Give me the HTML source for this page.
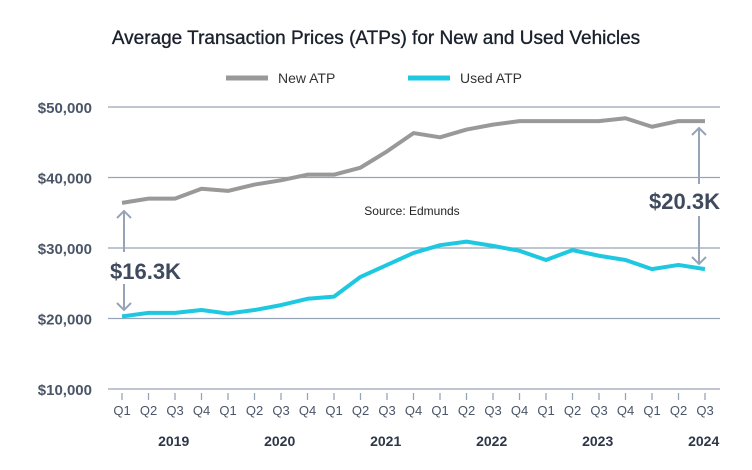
<!DOCTYPE html>
<html><head><meta charset="utf-8"><style>
body{margin:0;background:#fff;}
svg{display:block;font-family:"Liberation Sans",sans-serif;}
</style></head><body>
<svg id="c" width="752" height="470">
<text x="376" y="44" text-anchor="middle" font-size="19" fill="#1a202c" stroke="#1a202c" stroke-width="0.35">Average Transaction Prices (ATPs) for New and Used Vehicles</text>
<g>
<line x1="226" y1="78" x2="268" y2="78" stroke="#999" stroke-width="5"/>
<text x="278" y="83" font-size="14" fill="#333">New ATP</text>
<line x1="408" y1="78" x2="450" y2="78" stroke="#1ec8e0" stroke-width="5"/>
<text x="460" y="83" font-size="14" fill="#333">Used ATP</text>
</g>
<text x="412" y="215" text-anchor="middle" font-size="12" fill="#222">Source: Edmunds</text>
<g id="grid"></g><g id="xax"></g><g id="lines"></g>
<g>
<line x1="124" y1="211" x2="124" y2="252" stroke="#97a3b6" stroke-width="2"/>
<polyline points="117,218 124,211 131,218" fill="none" stroke="#97a3b6" stroke-width="2"/>
<line x1="124" y1="284" x2="124" y2="310" stroke="#97a3b6" stroke-width="2"/>
<polyline points="117,303 124,310 131,303" fill="none" stroke="#97a3b6" stroke-width="2"/>
<text x="110" y="279" font-size="22" font-weight="bold" fill="#3f4a5c">$16.3K</text>
</g>
<g>
<line x1="699" y1="128" x2="699" y2="184" stroke="#97a3b6" stroke-width="2"/>
<polyline points="692,135 699,128 706,135" fill="none" stroke="#97a3b6" stroke-width="2"/>
<line x1="699" y1="216" x2="699" y2="264" stroke="#97a3b6" stroke-width="2"/>
<polyline points="692,257 699,264 706,257" fill="none" stroke="#97a3b6" stroke-width="2"/>
<text x="720" y="209" text-anchor="end" font-size="22" font-weight="bold" fill="#3f4a5c">$20.3K</text>
</g>
</svg>
<script>
const quarters=["Q1","Q2","Q3","Q4","Q1","Q2","Q3","Q4","Q1","Q2","Q3","Q4","Q1","Q2","Q3","Q4","Q1","Q2","Q3","Q4","Q1","Q2","Q3"];
const years=["2019","2020","2021","2022","2023","2024"];
const newATP=[36.4,37.0,37.0,38.4,38.1,39.0,39.6,40.4,40.4,41.4,43.7,46.3,45.7,46.8,47.5,48.0,48.0,48.0,48.0,48.4,47.2,48.0,48.0];
const usedATP=[20.3,20.8,20.8,21.2,20.7,21.2,21.9,22.8,23.1,25.9,27.6,29.3,30.4,30.9,30.3,29.6,28.3,29.7,28.9,28.3,27.0,27.6,27.0];
const yTicks=[10,20,30,40,50];
const NS="http://www.w3.org/2000/svg";
const X=i=>122+i*26.5;
const Y=v=>389-(v-10)*7.05;
function mk(t,a,p){const e=document.createElementNS(NS,t);for(const k in a)e.setAttribute(k,a[k]);p.appendChild(e);return e;}
const g=document.getElementById('grid'),xa=document.getElementById('xax'),ln=document.getElementById('lines');
yTicks.forEach(v=>{
 const l=mk('line',{x1:108,x2:720,y1:Y(v),y2:Y(v),stroke:'#97a3b6','stroke-width':1.3},g);
 
 
 const t=mk('text',{x:92,y:Y(v)+6,'text-anchor':'end','font-size':15,'font-weight':'bold',fill:'#4a5568'},g);
 t.textContent='$'+v+',000';
 
 
});
quarters.forEach((q,i)=>{
 const tk=mk('line',{x1:X(i),x2:X(i),y1:393,y2:400,stroke:'#97a3b6','stroke-width':1.3},xa);
 
 
 const t=mk('text',{x:X(i),y:415,'text-anchor':'middle','font-size':13,fill:'#4a5568'},xa);
 t.textContent=q;
 
 
});
years.forEach((y,i)=>{
 const t=mk('text',{x:X(i*4+1.95),y:446,'text-anchor':'middle','font-size':14,'font-weight':'bold',fill:'#2d3748'},xa);
 t.textContent=y;
 
 
});
function line(d,c,n){const p=mk('polyline',{points:d.map((v,i)=>X(i)+','+Y(v)).join(' '),fill:'none',stroke:c,'stroke-width':4,'stroke-linejoin':'round'},ln);
 
 }
line(newATP,'#999999','new-atp-line');
line(usedATP,'#1ec8e0','used-atp-line');
</script>
</body></html>
